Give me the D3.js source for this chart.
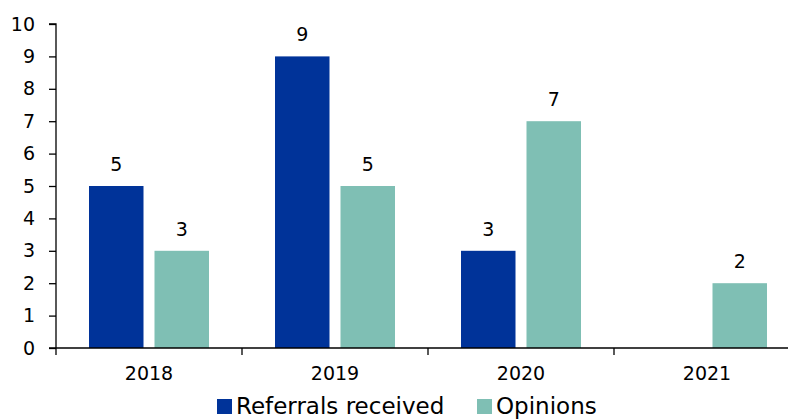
<!DOCTYPE html>
<html>
<head>
<meta charset="utf-8">
<script src="https://cdn.jsdelivr.net/npm/d3@7"></script>
<style>
  body { margin: 0; background: #fff; }
  svg text { font-family: "DejaVu Sans", Verdana, sans-serif; fill: #000; }
</style>
</head>
<body>
<svg id="chart" width="788" height="420"></svg>
<script>
const categories = ["2018", "2019", "2020", "2021"];
const seriesNames = ["Referrals received", "Opinions"];
const referrals = [5, 9, 3, null];
const opinions = [3, 5, 7, 2];
const yTicks = [0, 1, 2, 3, 4, 5, 6, 7, 8, 9, 10];
const colors = ["#003399", "#7FBFB4"];

const svg = d3.select("#chart");
const x0 = 56, x1 = 800, yTop = 24, yBot = 348;

const x = d3.scaleBand().domain(categories).range([x0, x1]).paddingInner(0).paddingOuter(0);
const xs = d3.scaleBand().domain(seriesNames).range([0, x.bandwidth()]).paddingInner(0.168).paddingOuter(0.504);
const y = d3.scaleLinear().domain([0, 10]).range([yBot, yTop]);

const fontSize = 19;

// Y axis
const yAxis = svg.append("g").attr("transform", `translate(${x0},0)`)
  .call(d3.axisLeft(y).tickValues(yTicks).tickFormat(d3.format("d")).tickSize(7).tickPadding(14));
yAxis.select(".domain").attr("stroke", "#000").attr("stroke-width", 1.3).attr("d", `M-7,${yTop}H0V${yBot}`);
yAxis.selectAll(".tick line").attr("stroke", "#000").attr("stroke-width", 1.3);
yAxis.selectAll(".tick text").style("font-size", fontSize + "px").attr("font-family", "DejaVu Sans");

// bars
const data = [referrals, opinions];
data.forEach((vals, si) => {
  const pts = categories.map((c, i) => ({ c, v: vals[i] })).filter(d => d.v != null);
  svg.append("g").selectAll("rect")
    .data(pts)
    .join("rect")
    .attr("x", d => x(d.c) + xs(seriesNames[si]))
    .attr("width", xs.bandwidth())
    .attr("y", d => y(d.v))
    .attr("height", d => y(0) - y(d.v))
    .attr("fill", colors[si]);
  svg.append("g").selectAll("text")
    .data(pts)
    .join("text")
    .attr("x", d => x(d.c) + xs(seriesNames[si]) + xs.bandwidth() / 2)
    .attr("y", d => y(d.v) - 15)
    .attr("text-anchor", "middle")
    .style("font-size", fontSize + "px")
    .text(d => d.v);
});

// X axis
const xAxis = svg.append("g").attr("transform", `translate(0,${yBot})`)
  .call(d3.axisBottom(x).tickSize(0).tickPadding(19));
xAxis.select(".domain").attr("stroke", "#000").attr("stroke-width", 1.3).attr("d", `M${x0 - 7},0H${x1}`);
xAxis.selectAll(".tick text").style("font-size", fontSize + "px").attr("font-family", "DejaVu Sans");
// category boundary ticks
svg.append("g").selectAll("line")
  .data(categories)
  .join("line")
  .attr("x1", d => x(d)).attr("x2", d => x(d))
  .attr("y1", yBot).attr("y2", yBot + 7)
  .attr("stroke", "#000").attr("stroke-width", 1.3);

// Legend
const legendItems = [
  { name: seriesNames[0], color: colors[0], x: 217 },
  { name: seriesNames[1], color: colors[1], x: 477 }
];
const lg = svg.append("g");
legendItems.forEach(it => {
  lg.append("rect").attr("x", it.x).attr("y", 399).attr("width", 15).attr("height", 15).attr("fill", it.color);
  lg.append("text").attr("x", it.x + 19).attr("y", 414).style("font-size", "23px").text(it.name);
});
</script>
</body>
</html>
